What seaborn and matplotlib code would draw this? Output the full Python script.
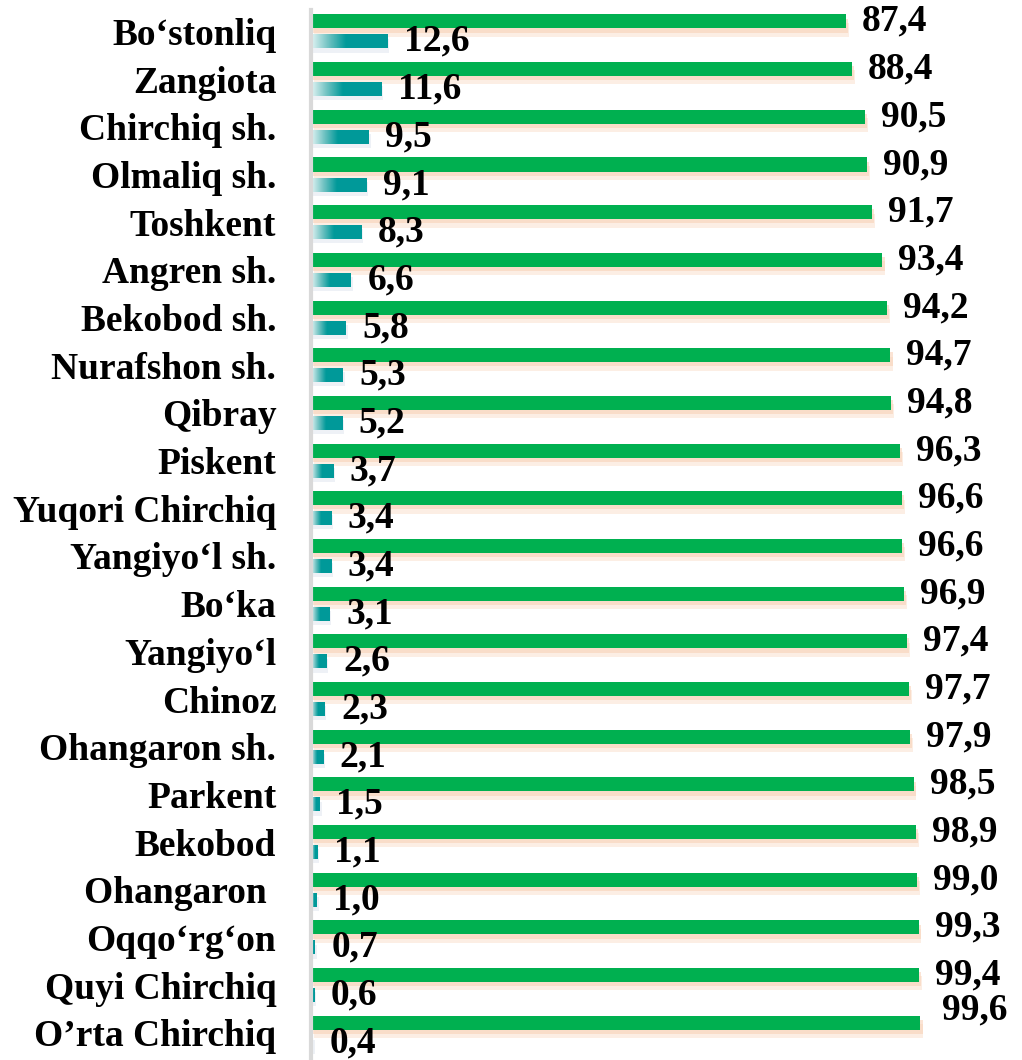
import numpy as np
import pandas as pd
import matplotlib
matplotlib.use("Agg")
import matplotlib.pyplot as plt
import matplotlib.patheffects as pe
from matplotlib.colors import LinearSegmentedColormap
import seaborn as sns

#------------DATA----------

districts = ["Bo‘stonliq", "Zangiota", "Chirchiq sh.", "Olmaliq sh.", "Toshkent",
             "Angren sh.", "Bekobod sh.", "Nurafshon sh.", "Qibray", "Piskent",
             "Yuqori Chirchiq", "Yangiyo‘l sh.", "Bo‘ka", "Yangiyo‘l", "Chinoz",
             "Ohangaron sh.", "Parkent", "Bekobod", "Ohangaron ", "Oqqo‘rg‘on",
             "Quyi Chirchiq", "O’rta Chirchiq"]
green_vals = [87.4, 88.4, 90.5, 90.9, 91.7, 93.4, 94.2, 94.7, 94.8, 96.3, 96.6,
              96.6, 96.9, 97.4, 97.7, 97.9, 98.5, 98.9, 99.0, 99.3, 99.4, 99.6]
teal_vals = [12.6, 11.6, 9.5, 9.1, 8.3, 6.6, 5.8, 5.3, 5.2, 3.7, 3.4,
             3.4, 3.1, 2.6, 2.3, 2.1, 1.5, 1.1, 1.0, 0.7, 0.6, 0.4]
series = ["A", "B"]

GREEN = "#00B050"
TEAL = "#009999"

df = pd.DataFrame({
    "District": districts * 2,
    "Value": green_vals + teal_vals,
    "Series": [series[0]] * len(districts) + [series[1]] * len(districts),
})

#------------PLOT----------

sns.set_theme(style="white")
plt.rcParams["font.family"] = ["Liberation Serif", "DejaVu Serif"]
plt.rcParams["font.weight"] = "bold"

fig = plt.figure(figsize=(10.22, 10.60), dpi=100)
ax = fig.add_axes([311 / 1022, 0, 1 - 311 / 1022, 1 - 10 / 1060])

sns.barplot(data=df, y="District", x="Value", hue="Series", hue_order=series,
            order=districts, palette=[GREEN, TEAL], orient="h",
            width=0.84, gap=0.3, legend=False, ax=ax, saturation=1)

green_bars = ax.containers[0]
teal_bars = ax.containers[1]

# soft peach glow under the green bars
for p in green_bars:
    p.set_edgecolor("none")
    p.set_path_effects([pe.SimplePatchShadow(offset=(2, -6), shadow_rgbFace="#fbe3d3", alpha=0.6),
                        pe.SimplePatchShadow(offset=(1.5, -3), shadow_rgbFace="#f8cfb3", alpha=0.55),
                        pe.Normal()])

# gradient on teal bars: light at the axis, solid teal from ~45% of the bar
cmap = LinearSegmentedColormap.from_list("tg", ["#e4f4f4", "#6fc2c2", TEAL])
grad = np.linspace(0, 1, 256).reshape(1, -1)
for p in teal_bars:
    p.set_edgecolor("none")
    p.set_path_effects([pe.SimplePatchShadow(offset=(1, -3), shadow_rgbFace="#e3e8f0", alpha=0.6),
                        pe.Normal()])
    y0, h, w = p.get_y(), p.get_height(), p.get_width()
    im = ax.imshow(grad, extent=[0, 0.45 * w, y0 + h, y0], cmap=cmap, aspect="auto",
                   interpolation="bicubic", zorder=p.get_zorder() + 0.1)
    im.set_clip_path(p)

ax.set_xlim(0, 116.2)
ax.set_ylim(21.57, -0.45)

# value labels
for i, (p, v) in enumerate(zip(green_bars, green_vals)):
    off = (16, 0) if i < len(green_vals) - 1 else (22, 13)
    ax.annotate(f"{v:.1f}".replace(".", ","), (p.get_width(), p.get_y() + p.get_height() / 2),
                xytext=off, textcoords="offset pixels", va="center", ha="left",
                fontsize=27, fontweight="bold", color="black")
for p, v in zip(teal_bars, teal_vals):
    ax.annotate(f"{v:.1f}".replace(".", ","), (p.get_width(), p.get_y() + p.get_height() / 2),
                xytext=(16, 0), textcoords="offset pixels", va="center", ha="left",
                fontsize=27, fontweight="bold", color="black")

ax.set_xlabel("")
ax.set_ylabel("")
ax.set_xticks([])
ax.tick_params(axis="y", length=0, pad=25, labelsize=27, labelcolor="black")
for t in ax.get_yticklabels():
    t.set_fontweight("bold")
for s in ["top", "right", "bottom"]:
    ax.spines[s].set_visible(False)
ax.spines["left"].set_color("#d9d9d9")
ax.spines["left"].set_linewidth(3)

plt.savefig("out.png", dpi=100)
plt.close()
